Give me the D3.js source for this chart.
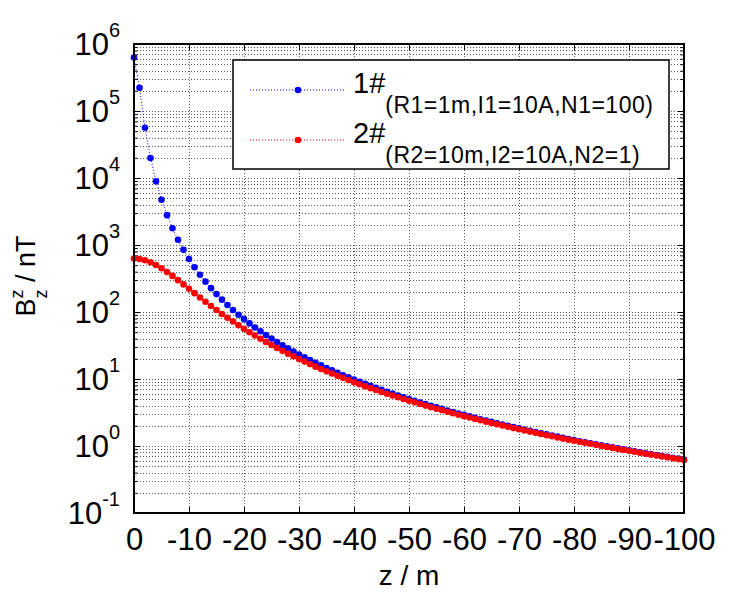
<!DOCTYPE html>
<html>
<head>
<meta charset="utf-8">
<script src="https://cdn.jsdelivr.net/npm/d3@7"></script>
<style>
  body { margin: 0; background: #fff; }
  svg { font-family: Arial, "Liberation Sans", Helvetica, sans-serif; }
</style>
</head>
<body>
<svg id="canvas" width="756" height="596"></svg>
<script>
// z positions along the coil axis (m)
var zPos = [
  0, -1, -2, -3, -4, -5, -6, -7, -8, -9,
  -10, -11, -12, -13, -14, -15, -16, -17, -18, -19,
  -20, -21, -22, -23, -24, -25, -26, -27, -28, -29,
  -30, -31, -32, -33, -34, -35, -36, -37, -38, -39,
  -40, -41, -42, -43, -44, -45, -46, -47, -48, -49,
  -50, -51, -52, -53, -54, -55, -56, -57, -58, -59,
  -60, -61, -62, -63, -64, -65, -66, -67, -68, -69,
  -70, -71, -72, -73, -74, -75, -76, -77, -78, -79,
  -80, -81, -82, -83, -84, -85, -86, -87, -88, -89,
  -90, -91, -92, -93, -94, -95, -96, -97, -98, -99,
  -100
]

// Bz for coil 1# (nT)
var coil1 = [
  628000, 222000, 56200, 19900, 8960, 4740, 2790, 1780, 1200, 846,
  619, 466, 360, 284, 227, 185, 153, 127, 107, 91.2,
  78.3, 67.6, 58.8, 51.5, 45.3, 40.1, 35.7, 31.9, 28.6, 25.7,
  23.2, 21.1, 19.2, 17.5, 16.0, 14.6, 13.5, 12.4, 11.4, 10.6,
  9.81, 9.11, 8.47, 7.90, 7.37, 6.89, 6.45, 6.05, 5.68, 5.34,
  5.02, 4.73, 4.47, 4.22, 3.99, 3.78, 3.58, 3.39, 3.22, 3.06,
  2.91, 2.77, 2.64, 2.51, 2.40, 2.29, 2.19, 2.09, 2.00, 1.91,
  1.83, 1.76, 1.68, 1.62, 1.55, 1.49, 1.43, 1.38, 1.32, 1.27,
  1.23, 1.18, 1.14, 1.10, 1.06, 1.02, 0.988, 0.954, 0.922, 0.891,
  0.862, 0.834, 0.807, 0.781, 0.756, 0.733, 0.710, 0.688, 0.668, 0.648,
  0.628
]

// Bz for coil 2# (nT)
var coil2 = [
  628, 619, 592, 552, 503, 450, 396, 346, 299, 258,
  222, 191, 165, 142, 123, 107, 93.5, 81.9, 72.0, 63.5,
  56.2, 49.9, 44.5, 39.8, 35.8, 32.2, 29.1, 26.3, 23.9, 21.8,
  19.9, 18.2, 16.7, 15.3, 14.1, 13.0, 12.1, 11.2, 10.4, 9.63,
  8.96, 8.36, 7.81, 7.30, 6.84, 6.41, 6.02, 5.66, 5.33, 5.02,
  4.74, 4.48, 4.23, 4.01, 3.79, 3.60, 3.41, 3.24, 3.08, 2.93,
  2.79, 2.66, 2.54, 2.42, 2.31, 2.21, 2.11, 2.02, 1.94, 1.85,
  1.78, 1.71, 1.64, 1.57, 1.51, 1.45, 1.40, 1.34, 1.29, 1.24,
  1.20, 1.16, 1.12, 1.08, 1.04, 1.00, 0.968, 0.936, 0.904, 0.875,
  0.846, 0.819, 0.793, 0.768, 0.744, 0.721, 0.699, 0.678, 0.657, 0.638,
  0.619
]

var seriesNames = ['1#', '2#']
var seriesParams = ['(R1=1m,I1=10A,N1=100)', '(R2=10m,I2=10A,N2=1)']
var seriesColors = ['#0000ff', '#ff0000']

var xTicks = [0, -10, -20, -30, -40, -50, -60, -70, -80, -90, -100]
var yExponents = [-1, 0, 1, 2, 3, 4, 5, 6]

var svg = d3.select('#canvas')
// plot box in pixels (note: "top" is taken by window.top)
var plotLeft = 134, plotRight = 684, plotTop = 44, plotBottom = 513

var x = d3.scaleLinear().domain([0, -100]).range([plotLeft, plotRight])
var y = d3.scaleLog().domain([1e-1, 1e6]).range([plotBottom, plotTop])

// dotted grid
var grid = svg.append('g')
  .attr('stroke', '#222')
  .attr('stroke-width', 1)
  .attr('stroke-dasharray', '1,2')
  .attr('opacity', 0.75)

grid.selectAll('.gy')
  .data(y.ticks())
  .enter()
  .append('line')
  .attr('x1', plotLeft)
  .attr('x2', plotRight)
  .attr('y1', d => Math.round(y(d)) + 0.5)
  .attr('y2', d => Math.round(y(d)) + 0.5)

grid.selectAll('.gx')
  .data(xTicks.slice(1, -1))
  .enter()
  .append('line')
  .attr('x1', d => Math.round(x(d)) + 0.5)
  .attr('x2', d => Math.round(x(d)) + 0.5)
  .attr('y1', plotTop)
  .attr('y2', plotBottom)

// axes with inward ticks
var majors = yExponents.map(e => Math.pow(10, e))

svg.append('g')
  .attr('transform', `translate(0,${plotBottom})`)
  .call(d3.axisBottom(x).tickValues(xTicks).tickSizeInner(-6).tickSizeOuter(0).tickPadding(15).tickFormat(d => String(d)))
  .call(g => g.select('.domain').remove())
  .call(g => g.selectAll('text').attr('font-size', 31).attr('font-family', 'Arial, "Liberation Sans", sans-serif').attr('fill', '#000'))

svg.append('g')
  .attr('transform', `translate(0,${plotTop})`)
  .call(d3.axisTop(x).tickValues(xTicks).tickSizeInner(-6).tickSizeOuter(0).tickFormat(''))
  .call(g => g.select('.domain').remove())

svg.append('g')
  .attr('transform', `translate(${plotLeft},0)`)
  .call(d3.axisLeft(y).tickValues(y.ticks()).tickSizeInner(-3.5).tickSizeOuter(0).tickFormat(''))
  .call(g => g.select('.domain').remove())
  .call(g => g.selectAll('.tick line').filter(d => majors.indexOf(d) >= 0).attr('x2', 6))

svg.append('g')
  .attr('transform', `translate(${plotRight},0)`)
  .call(d3.axisRight(y).tickValues(y.ticks()).tickSizeInner(-3.5).tickSizeOuter(0).tickFormat(''))
  .call(g => g.select('.domain').remove())
  .call(g => g.selectAll('.tick line').filter(d => majors.indexOf(d) >= 0).attr('x2', -6))

svg.selectAll('.tick line').attr('stroke', '#000').attr('stroke-width', 1)

// y tick labels as 10^n
svg.selectAll('.ylab')
  .data(yExponents)
  .enter()
  .append('text')
  .attr('x', 120)
  .attr('y', d => y(Math.pow(10, d)) + 11)
  .attr('text-anchor', 'end')
  .attr('font-size', 31)
  .each(function(d) {
    var t = d3.select(this)
    t.append('tspan').text('10')
    t.append('tspan').attr('font-size', 20).attr('dy', -18).text(d)
  })

// the two series
var series = [coil1, coil2]
series.forEach(function(vals, k) {
  var pts = zPos.map((z, i) => [z, vals[i]])
  svg.append('path')
    .datum(pts)
    .attr('fill', 'none')
    .attr('stroke', seriesColors[k])
    .attr('stroke-width', 1)
    .attr('stroke-dasharray', '1,2')
    .attr('d', d3.line().x(d => x(d[0])).y(d => y(d[1])))

  svg.append('g').selectAll('circle')
    .data(pts)
    .enter()
    .append('circle')
    .attr('cx', d => x(d[0]))
    .attr('cy', d => y(d[1]))
    .attr('r', 3.3)
    .attr('fill', seriesColors[k])
})

// frame
svg.append('rect')
  .attr('x', plotLeft)
  .attr('y', plotTop)
  .attr('width', plotRight - plotLeft)
  .attr('height', plotBottom - plotTop)
  .attr('fill', 'none')
  .attr('stroke', '#000')
  .attr('stroke-width', 2)

// legend
var legend = svg.append('g')
legend.append('rect')
  .attr('x', 233)
  .attr('y', 60)
  .attr('width', 436)
  .attr('height', 109)
  .attr('fill', '#fff')
  .attr('stroke', '#000')
  .attr('stroke-width', 1.5)

seriesNames.forEach(function(name, k) {
  var rowY = 90 + k * 50
  legend.append('line')
    .attr('x1', 250)
    .attr('x2', 344)
    .attr('y1', rowY)
    .attr('y2', rowY)
    .attr('stroke', seriesColors[k])
    .attr('stroke-dasharray', '1,2')
  legend.append('circle')
    .attr('cx', 298)
    .attr('cy', rowY)
    .attr('r', 3.3)
    .attr('fill', seriesColors[k])
  var t = legend.append('text')
    .attr('x', 353)
    .attr('y', rowY + 3)
    .attr('font-size', 29)
  t.append('tspan').text(name)
  t.append('tspan').attr('font-size', 23).attr('letter-spacing', 0.5).attr('dy', 20).text(seriesParams[k])
})

// axis titles
svg.append('text')
  .attr('x', 409)
  .attr('y', 585)
  .attr('text-anchor', 'middle')
  .attr('font-size', 28)
  .text('z / m')

var yt = svg.append('text')
  .attr('transform', 'translate(35,276) rotate(-90)')
  .attr('text-anchor', 'middle')
  .attr('font-size', 27)
yt.append('tspan').text('B')
yt.append('tspan').attr('font-size', 18).attr('dy', -12).text('z')
yt.append('tspan').attr('font-size', 18).attr('dx', -9).attr('dy', 24).text('z')
yt.append('tspan').attr('dy', -12).text(' / nT')
</script>
</body>
</html>
